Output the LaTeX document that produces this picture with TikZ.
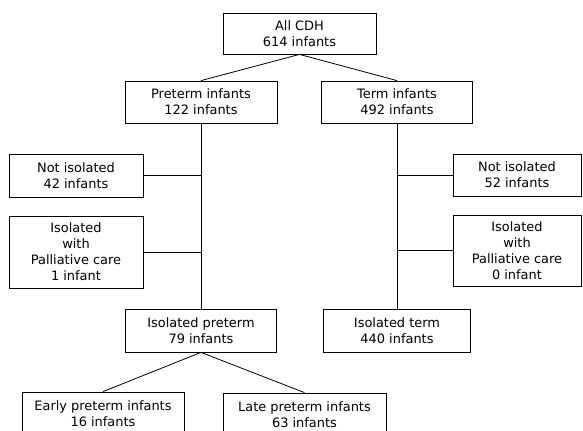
\documentclass[tikz,border=0pt]{standalone}
\usepackage{fontspec}
\setmainfont{DejaVu Sans}

\begin{document}
\begin{tikzpicture}[x=0.75pt, y=-0.75pt,
  box/.style={draw, line width=0.6pt, align=center, inner sep=2pt,
    font=\fontsize{9.7}{12}\selectfont},
  link/.style={line width=0.6pt}]
  \clip (0,0) rectangle (583,430);
  % top levels
  \node[box, minimum width=114.75pt, minimum height=30.75pt] (cdh) at (299.5,33.5) {All CDH\\614 infants};
  \node[box, minimum width=114pt, minimum height=31.5pt] (pre) at (201,102) {Preterm infants\\122 infants};
  \node[box, minimum width=113.25pt, minimum height=31.5pt] (term) at (397,102) {Term infants\\492 infants};
  % excluded groups
  \node[box, minimum width=100.5pt, minimum height=32.25pt] (ni42) at (76,175.5) {Not isolated\\42 infants};
  \node[box, minimum width=100.5pt, minimum height=54pt] (pal1) at (76,252) {Isolated\\with\\Palliative care\\1 infant};
  \node[box, minimum width=96pt, minimum height=31.5pt] (ni52) at (517,175) {Not isolated\\52 infants};
  \node[box, minimum width=96pt, minimum height=53.25pt] (pal0) at (517,250.5) {Isolated\\with\\Palliative care\\0 infant};
  % isolated groups
  \node[box, minimum width=113.25pt, minimum height=32.25pt] (isopre) at (201,330.5) {Isolated preterm\\79 infants};
  \node[box, minimum width=110.25pt, minimum height=32.25pt] (isoterm) at (397,330.5) {Isolated term\\440 infants};
  \node[box, minimum width=121.5pt, minimum height=32.25pt] (early) at (103,413.5) {Early preterm infants\\16 infants};
  \node[box, minimum width=122.25pt, minimum height=32.25pt] (late) at (304.5,414.5) {Late preterm infants\\63 infants};

  \draw[link] (cdh.south) -- (pre.north);
  \draw[link] (cdh.south) -- (term.north);
  \draw[link] (pre.south) -- (isopre.north);
  \draw[link] (term.south) -- (isoterm.north);
  \draw[link] (ni42.east) -- (ni42.east -| pre.south);
  \draw[link] (pal1.east) -- (pal1.east -| pre.south);
  \draw[link] (ni52.west) -- (ni52.west -| term.south);
  \draw[link] (pal0.west) -- (pal0.west -| term.south);
  \draw[link] (isopre.south) -- (early.north);
  \draw[link] (isopre.south) -- (late.north);
\end{tikzpicture}
\end{document}
